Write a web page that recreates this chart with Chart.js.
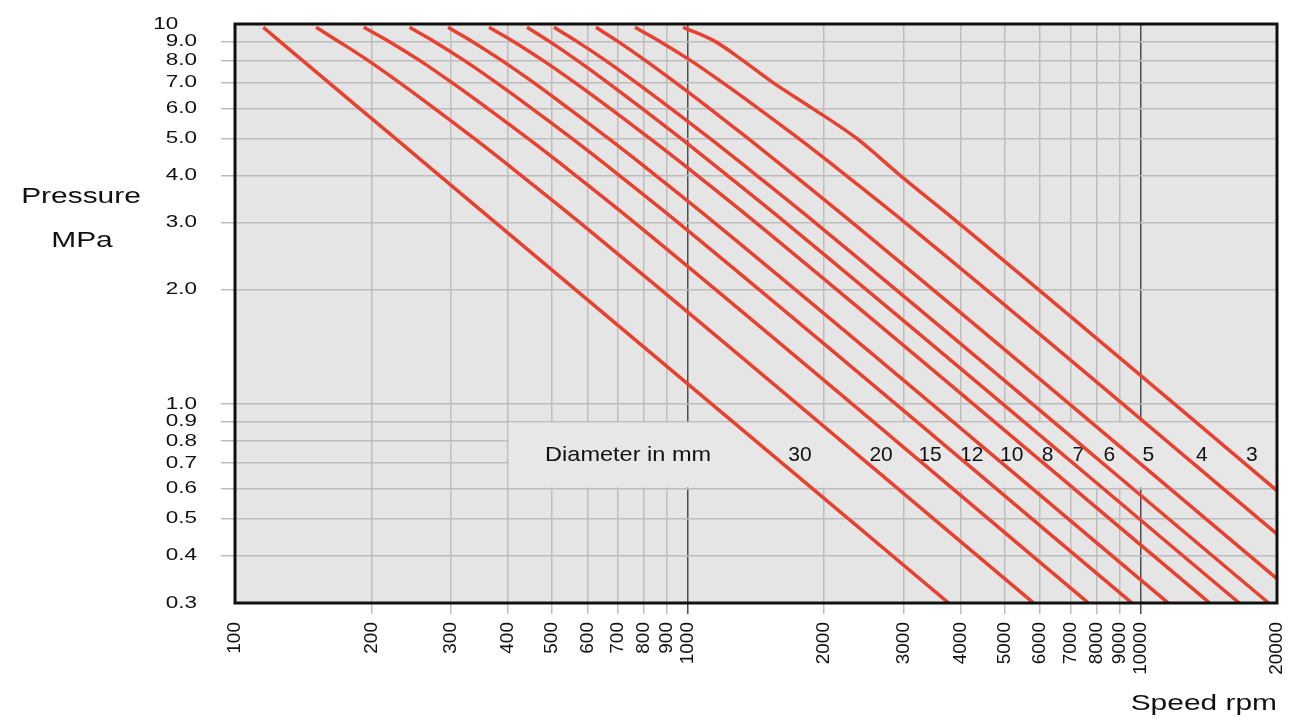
<!DOCTYPE html>
<html>
<head>
<meta charset="utf-8">
<script src="https://cdn.jsdelivr.net/npm/chart.js@4"></script>
<style>
  html, body { margin: 0; padding: 0; background: #fff; }
  #wrap { width: 1290px; height: 720px; }
</style>
</head>
<body>
<div id="wrap"><canvas id="chart" width="1290" height="720"></canvas></div>
<script>
/* ---------- data ---------- */
const diameters = [30, 20, 15, 12, 10, 8, 7, 6, 5, 4, 3];

// pressure (MPa) at which each curve's speed was read
const pressureSteps = [9.8, 9, 8, 7, 6, 5, 4, 3, 0.3];

// speed (rpm) of each diameter curve at those pressures
const rpmD30 = [115.5, 125.6, 141.3, 161.4, 188.3, 226, 282.5, 376.7, 3767];
const rpmD20 = [151, 169.3, 197.3, 231.2, 275.5, 337.3, 428.2, 578.3, 5800];
const rpmD15 = [192.5, 218.8, 256.5, 302, 361.1, 443.4, 564.7, 763.9, 7667];
const rpmD12 = [242.9, 275.2, 321.8, 378.4, 452, 554.5, 705.3, 953.4, 9567];
const rpmD10 = [295.4, 333.9, 389.4, 457.4, 545.1, 667.9, 848.7, 1146, 11500];
const rpmD8  = [363.9, 411.8, 480.3, 564.1, 673.1, 823.9, 1048, 1415, 14200];
const rpmD7  = [441.5, 494.5, 571.7, 666.8, 792, 965.3, 1221, 1646, 16500];
const rpmD6  = [506.4, 568.6, 659.8, 770.5, 916.2, 1119, 1417, 1912, 19170];
const rpmD5  = [626.9, 700.4, 807.9, 941.2, 1116, 1358, 1717, 2311, 23170];
const rpmD4  = [764.4, 867.5, 1017, 1196, 1430, 1756, 2234, 3023, 30330];
const rpmD3  = [975.9, 1148, 1326, 1545, 1885, 2360, 2942, 3958, 39330];

const rpmCurves = [rpmD30, rpmD20, rpmD15, rpmD12, rpmD10, rpmD8, rpmD7, rpmD6, rpmD5, rpmD4, rpmD3];

// axis ticks
const xTicks = [100, 200, 300, 400, 500, 600, 700, 800, 900, 1000,
                2000, 3000, 4000, 5000, 6000, 7000, 8000, 9000, 10000, 20000];
const xTickLabels = ['100', '200', '300', '400', '500', '600', '700', '800', '900', '1000',
                     '2000', '3000', '4000', '5000', '6000', '7000', '8000', '9000', '10000', '20000'];
const yTicks = [0.3, 0.4, 0.5, 0.6, 0.7, 0.8, 0.9, 1, 2, 3, 4, 5, 6, 7, 8, 9, 10];
const yTickLabels = ['0.3', '0.4', '0.5', '0.6', '0.7', '0.8', '0.9', '1.0',
                     '2.0', '3.0', '4.0', '5.0', '6.0', '7.0', '8.0', '9.0', '10   '];

// legend strip "Diameter in mm" (rpm / MPa range) and label spots (rpm)
const legendRpmRange = [400, 20000];
const legendMpaRange = [0.6, 0.9];
const legendTitle = 'Diameter in mm';
const legendTitleRpm = 738;
const diameterLabelRpm = [1769, 2671, 3427, 4236, 5191, 6233, 7285, 8528, 10400, 13640, 17600];

/* ---------- styles ---------- */
const RED = '#e8412f';
const GRID = '#bdbdbd';
const GRID_DARK = '#4d4d4d';
const PLOT_BG = '#e5e5e5';
const TEXT_STRETCH = 1.36;   // the source lettering is wide

const datasets = diameters.map((d, i) => ({
  label: d + ' mm',
  data: rpmCurves[i].map((rpm, k) => ({ x: rpm, y: pressureSteps[k] })),
  borderColor: RED,
  borderWidth: 3.5,
  pointRadius: 0,
  cubicInterpolationMode: 'monotone',
  fill: false
}));

function drawStretched(ctx, text, x, y, sx) {
  ctx.save();
  ctx.translate(x, y);
  ctx.scale(sx, 1);
  ctx.fillText(text, 0, 0);
  ctx.restore();
}

const decor = {
  id: 'decor',
  beforeDraw(chart) {
    const { ctx, chartArea: a } = chart;
    // widen y tick labels around their right-aligned anchor
    const ys = chart.scales.y;
    if (!ys._wide) {
      const orig = ys.drawLabels.bind(ys);
      ys.drawLabels = function (area) {
        const ax = this.right - this.options.grid.tickLength - this.options.ticks.padding;
        ctx.save();
        ctx.translate(ax, 0);
        ctx.scale(TEXT_STRETCH, 1);
        ctx.translate(-ax, 0);
        orig(area);
        ctx.restore();
      };
      ys._wide = true;
    }
    ctx.save();
    ctx.fillStyle = PLOT_BG;
    ctx.fillRect(a.left, a.top, a.right - a.left, a.bottom - a.top);
    ctx.restore();
  },
  beforeDatasetsDraw(chart) {
    const { ctx, chartArea: a, scales: { x, y } } = chart;
    const x0 = x.getPixelForValue(legendRpmRange[0]) + 1;
    const x1 = Math.min(x.getPixelForValue(legendRpmRange[1]), a.right);
    const yTop = y.getPixelForValue(legendMpaRange[1]) + 1;
    const yBot = y.getPixelForValue(legendMpaRange[0]) - 1;
    ctx.save();
    ctx.fillStyle = '#e7e7e7';
    ctx.fillRect(x0, yTop, x1 - x0, yBot - yTop);
    const ty = y.getPixelForValue(Math.sqrt(legendMpaRange[0] * legendMpaRange[1]));
    ctx.fillStyle = '#111';
    ctx.textAlign = 'center';
    ctx.textBaseline = 'middle';
    ctx.font = '21px "Liberation Sans", Arial, sans-serif';
    drawStretched(ctx, legendTitle, x.getPixelForValue(legendTitleRpm), ty, 1.12);
    diameters.forEach((d, i) => {
      ctx.fillText(String(d), x.getPixelForValue(diameterLabelRpm[i]), ty);
    });
    ctx.restore();
  },
  afterDatasetsDraw(chart) {
    const { ctx, chartArea: a } = chart;
    ctx.save();
    ctx.strokeStyle = '#111';
    ctx.lineWidth = 3;
    ctx.strokeRect(a.left, a.top, a.right - a.left, a.bottom - a.top);
    ctx.restore();
  },
  afterDraw(chart) {
    const { ctx, chartArea: a } = chart;
    ctx.save();
    ctx.fillStyle = '#111';
    ctx.textBaseline = 'middle';
    ctx.font = '22px "Liberation Sans", Arial, sans-serif';
    ctx.textAlign = 'center';
    drawStretched(ctx, 'Pressure', 81, 197, TEXT_STRETCH);
    drawStretched(ctx, 'MPa', 82, 241, TEXT_STRETCH);
    ctx.textAlign = 'right';
    drawStretched(ctx, 'Speed rpm', a.right, 704, TEXT_STRETCH);
    ctx.restore();
  }
};

new Chart(document.getElementById('chart'), {
  type: 'line',
  data: { datasets },
  options: {
    responsive: false,
    animation: false,
    devicePixelRatio: 1,
    layout: { padding: { top: 24, right: 13, left: 0, bottom: 0 } },
    plugins: { legend: { display: false }, tooltip: { enabled: false } },
    scales: {
      x: {
        type: 'logarithmic',
        position: 'bottom',
        min: 100,
        max: 20000,
        afterBuildTicks: s => { s.ticks = xTicks.map(v => ({ value: v })); },
        afterFit: s => { s.height = 117; s.paddingLeft = 0; s.paddingRight = 0; },
        ticks: {
          autoSkip: false,
          minRotation: 90,
          maxRotation: 90,
          padding: 8,
          color: '#111',
          font: { family: 'Liberation Sans', size: 19 },
          callback: (v, i) => xTickLabels[i]
        },
        grid: {
          color: c => {
            const v = c.tick && c.tick.value;
            if (v === 100 || v === 20000) return 'rgba(0,0,0,0)';
            return (v === 1000 || v === 10000) ? GRID_DARK : GRID;
          },
          lineWidth: 1.5,
          tickLength: 11
        },
        border: { display: false }
      },
      y: {
        type: 'logarithmic',
        min: 0.3,
        max: 10,
        afterBuildTicks: s => { s.ticks = yTicks.map(v => ({ value: v })); },
        afterFit: s => { s.width = 235; s.paddingTop = 0; s.paddingBottom = 0; },
        ticks: {
          autoSkip: false,
          padding: 24,
          color: '#111',
          font: { family: 'Liberation Sans', size: 16.5 },
          callback: (v, i) => yTickLabels[i]
        },
        grid: {
          color: c => {
            const v = c.tick && c.tick.value;
            return (v === 0.3 || v === 10) ? 'rgba(0,0,0,0)' : GRID;
          },
          lineWidth: 1.5,
          tickLength: 14
        },
        border: { display: false }
      }
    }
  },
  plugins: [decor]
});
</script>
</body>
</html>
